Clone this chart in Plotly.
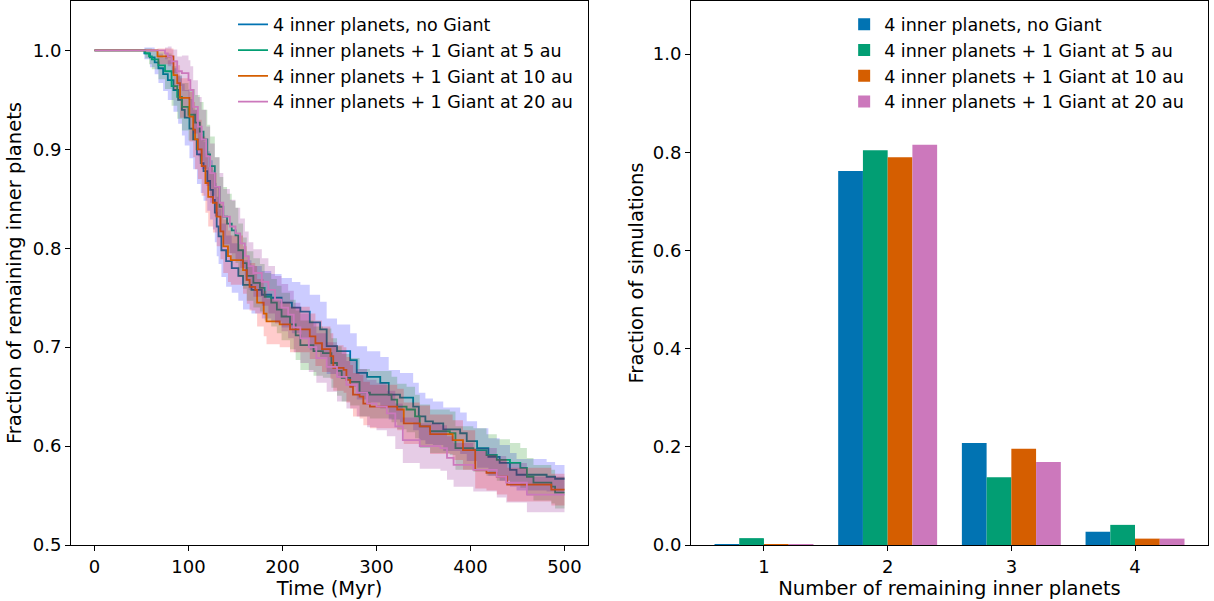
import plotly.graph_objects as go

# ---------------- Left panel data (step curves) ----------------
blue_t = [0, 53, 59, 64, 68, 73, 78, 84, 89, 93, 96, 101, 105, 109, 113, 116, 120, 123, 126, 128, 130, 132, 135, 140, 146, 153, 158, 167, 178, 188, 199, 210, 219, 229, 240, 247, 258, 272, 279, 290, 304, 313, 325, 339, 345, 352, 360, 371, 389, 396, 407, 419, 431, 442, 449, 481, 490, 500]
blue_f = [1.0, 0.997, 0.993, 0.988, 0.982, 0.976, 0.970, 0.960, 0.950, 0.940, 0.932, 0.921, 0.910, 0.895, 0.886, 0.878, 0.868, 0.859, 0.849, 0.836, 0.822, 0.812, 0.798, 0.787, 0.780, 0.772, 0.763, 0.758, 0.753, 0.750, 0.745, 0.740, 0.736, 0.725, 0.718, 0.701, 0.696, 0.687, 0.674, 0.670, 0.664, 0.652, 0.649, 0.640, 0.630, 0.625, 0.623, 0.617, 0.613, 0.605, 0.598, 0.589, 0.583, 0.576, 0.571, 0.569, 0.567, 0.567]
blue_err = [0, 0.006, 0.01, 0.012, 0.015, 0.017, 0.02, 0.022, 0.024, 0.026, 0.028, 0.03, 0.03, 0.03, 0.03, 0.03, 0.03, 0.03, 0.03, 0.03, 0.03, 0.028, 0.027, 0.026, 0.025, 0.025, 0.025, 0.024, 0.024, 0.024, 0.025, 0.026, 0.027, 0.028, 0.028, 0.028, 0.027, 0.027, 0.027, 0.026, 0.026, 0.025, 0.025, 0.024, 0.024, 0.023, 0.022, 0.022, 0.021, 0.02, 0.02, 0.019, 0.018, 0.017, 0.016, 0.015, 0.014, 0.014]

green_t = [0, 54, 58, 61, 68, 75, 82, 88, 93, 100, 107, 112, 116, 120, 123, 128, 133, 137, 141, 146, 150, 153, 158, 162, 169, 176, 181, 188, 194, 199, 208, 214, 219, 233, 243, 252, 258, 263, 272, 282, 293, 316, 322, 332, 341, 346, 357, 378, 384, 403, 417, 428, 442, 453, 460, 467, 486, 490, 500]
green_f = [1.0, 0.997, 0.994, 0.991, 0.985, 0.979, 0.964, 0.953, 0.943, 0.935, 0.927, 0.918, 0.910, 0.895, 0.883, 0.862, 0.842, 0.832, 0.825, 0.818, 0.813, 0.798, 0.785, 0.772, 0.765, 0.760, 0.751, 0.745, 0.738, 0.731, 0.723, 0.712, 0.702, 0.696, 0.694, 0.684, 0.676, 0.669, 0.665, 0.654, 0.652, 0.647, 0.640, 0.637, 0.630, 0.620, 0.615, 0.613, 0.598, 0.596, 0.591, 0.586, 0.583, 0.578, 0.569, 0.563, 0.559, 0.553, 0.553]
green_err = [0, 0.005, 0.008, 0.01, 0.014, 0.018, 0.02, 0.022, 0.024, 0.026, 0.028, 0.03, 0.03, 0.03, 0.03, 0.03, 0.03, 0.03, 0.03, 0.03, 0.028, 0.027, 0.026, 0.025, 0.025, 0.024, 0.024, 0.024, 0.024, 0.024, 0.025, 0.025, 0.025, 0.025, 0.025, 0.025, 0.025, 0.024, 0.024, 0.024, 0.024, 0.023, 0.023, 0.023, 0.022, 0.022, 0.022, 0.022, 0.022, 0.022, 0.021, 0.021, 0.02, 0.02, 0.019, 0.018, 0.017, 0.016, 0.016]

orange_t = [0, 67, 84, 88, 91, 101, 105, 107, 110, 114, 118, 121, 126, 130, 134, 137, 142, 145, 158, 162, 165, 171, 173, 180, 183, 197, 208, 229, 235, 242, 251, 254, 265, 268, 272, 275, 282, 286, 293, 322, 329, 346, 357, 381, 392, 405, 417, 428, 439, 486, 500]
orange_f = [1.0, 0.994, 0.975, 0.967, 0.952, 0.933, 0.920, 0.910, 0.900, 0.883, 0.866, 0.852, 0.846, 0.832, 0.817, 0.802, 0.792, 0.788, 0.778, 0.768, 0.761, 0.758, 0.745, 0.734, 0.726, 0.723, 0.718, 0.711, 0.704, 0.698, 0.691, 0.679, 0.677, 0.667, 0.660, 0.652, 0.650, 0.643, 0.640, 0.637, 0.623, 0.620, 0.612, 0.606, 0.596, 0.576, 0.573, 0.569, 0.561, 0.556, 0.556]
orange_err = [0, 0.008, 0.015, 0.018, 0.02, 0.025, 0.028, 0.03, 0.03, 0.03, 0.03, 0.03, 0.03, 0.03, 0.028, 0.027, 0.026, 0.025, 0.024, 0.024, 0.024, 0.024, 0.024, 0.023, 0.023, 0.023, 0.023, 0.023, 0.023, 0.023, 0.023, 0.023, 0.023, 0.023, 0.022, 0.022, 0.022, 0.022, 0.022, 0.021, 0.021, 0.021, 0.02, 0.02, 0.02, 0.019, 0.018, 0.018, 0.017, 0.016, 0.016]

pink_t = [0, 75, 78, 82, 88, 93, 100, 102, 105, 110, 114, 119, 123, 128, 133, 137, 144, 150, 155, 160, 164, 169, 178, 185, 192, 199, 206, 212, 219, 228, 236, 247, 258, 268, 279, 290, 300, 311, 320, 328, 346, 368, 375, 382, 403, 428, 438, 460, 500]
pink_f = [1.0, 0.997, 0.994, 0.989, 0.979, 0.977, 0.970, 0.960, 0.943, 0.923, 0.910, 0.893, 0.876, 0.862, 0.846, 0.832, 0.822, 0.815, 0.805, 0.792, 0.782, 0.775, 0.766, 0.758, 0.748, 0.740, 0.733, 0.720, 0.709, 0.700, 0.689, 0.680, 0.670, 0.662, 0.654, 0.643, 0.640, 0.633, 0.620, 0.606, 0.600, 0.598, 0.588, 0.581, 0.576, 0.569, 0.563, 0.551, 0.551]
pink_err = [0, 0.006, 0.01, 0.012, 0.015, 0.018, 0.02, 0.024, 0.027, 0.03, 0.03, 0.03, 0.03, 0.03, 0.03, 0.028, 0.027, 0.026, 0.025, 0.025, 0.024, 0.024, 0.024, 0.024, 0.024, 0.024, 0.024, 0.025, 0.025, 0.025, 0.025, 0.025, 0.025, 0.024, 0.024, 0.024, 0.024, 0.023, 0.023, 0.023, 0.023, 0.023, 0.022, 0.022, 0.022, 0.021, 0.02, 0.018, 0.017]

# ---------------- Right panel data (bars) ----------------
n_remaining = [1, 2, 3, 4]
bar_blue = [0.0015, 0.762, 0.208, 0.027]
bar_green = [0.014, 0.804, 0.138, 0.041]
bar_orange = [0.0015, 0.790, 0.196, 0.013]
bar_pink = [0.001, 0.815, 0.169, 0.013]

labels = ["4 inner planets, no Giant",
          "4 inner planets + 1 Giant at 5 au",
          "4 inner planets + 1 Giant at 10 au",
          "4 inner planets + 1 Giant at 20 au"]
line_colors = ["#0173b2", "#029e73", "#d55e00", "#cc78bc"]
band_colors = ["rgba(0,0,255,0.2)", "rgba(0,128,0,0.2)", "rgba(255,0,0,0.2)", "rgba(128,0,128,0.2)"]

series = [(blue_t, blue_f, blue_err),
          (green_t, green_f, green_err),
          (orange_t, orange_f, orange_err),
          (pink_t, pink_f, pink_err)]

fig = go.Figure()
FONT = "DejaVu Sans"

for i, (t, f, e) in enumerate(series):
    lo = [v - d for v, d in zip(f, e)]
    hi = [v + d for v, d in zip(f, e)]
    fig.add_trace(go.Scatter(x=t, y=lo, mode="lines", line=dict(width=0, shape="hv"),
                             showlegend=False, hoverinfo="skip", xaxis="x", yaxis="y"))
    fig.add_trace(go.Scatter(x=t, y=hi, mode="lines", line=dict(width=0, shape="hv"),
                             fill="tonexty", fillcolor=band_colors[i],
                             showlegend=False, hoverinfo="skip", xaxis="x", yaxis="y"))
    fig.add_trace(go.Scatter(x=t, y=f, mode="lines", name=labels[i],
                             line=dict(color=line_colors[i], width=1.8, shape="hv"),
                             xaxis="x", yaxis="y", legend="legend"))

for vals, c, lab in zip([bar_blue, bar_green, bar_orange, bar_pink], line_colors, labels):
    fig.add_trace(go.Bar(x=n_remaining, y=vals, name=lab, marker=dict(color=c, line=dict(width=0)),
                         xaxis="x2", yaxis="y2", legend="legend2"))

axis_common = dict(showline=True, mirror=True, linecolor="black", linewidth=1,
                   ticks="outside", ticklen=5, tickcolor="black", tickwidth=1,
                   showgrid=False, zeroline=False,
                   tickfont=dict(family=FONT, size=18, color="black"))
TFS = 19.5

fig.update_layout(
    width=1214, height=601,
    margin=dict(l=71, r=6, t=1, b=56),
    plot_bgcolor="white", paper_bgcolor="white",
    barmode="group", bargap=0.2, bargroupgap=0,
    font=dict(family=FONT, color="black"),
    xaxis=dict(domain=[0, 0.4547], range=[-25, 525], tickvals=[0, 100, 200, 300, 400, 500],
               title=dict(text="Time (Myr)", font=dict(family=FONT, size=TFS), standoff=0), **axis_common),
    yaxis=dict(range=[0.5, 1.05], tickvals=[0.5, 0.6, 0.7, 0.8, 0.9, 1.0], tickformat=".1f",
               title=dict(text="Fraction of remaining inner planets", font=dict(family=FONT, size=TFS), standoff=5),
               **axis_common),
    xaxis2=dict(domain=[0.5453, 1], range=[0.41, 4.59], tickvals=[1, 2, 3, 4], anchor="y2",
                title=dict(text="Number of remaining inner planets", font=dict(family=FONT, size=TFS), standoff=0),
                **axis_common),
    yaxis2=dict(range=[0, 1.108], tickvals=[0, 0.2, 0.4, 0.6, 0.8, 1.0], tickformat=".1f", anchor="x2",
                title=dict(text="Fraction of simulations", font=dict(family=FONT, size=TFS), standoff=3),
                **axis_common),
    legend=dict(x=0.1425, y=0.99, xanchor="left", yanchor="top", bgcolor="rgba(0,0,0,0)",
                font=dict(family=FONT, size=17.5), tracegroupgap=0, traceorder="normal"),
    legend2=dict(x=0.68, y=0.99, xanchor="left", yanchor="top", bgcolor="rgba(0,0,0,0)",
                 font=dict(family=FONT, size=17.5), tracegroupgap=0, traceorder="normal"),
)

fig.write_html("out.html")
